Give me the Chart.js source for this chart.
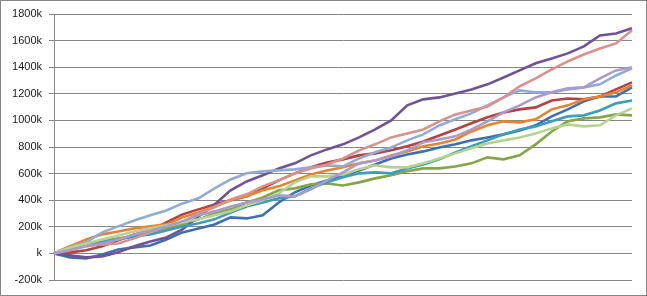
<!DOCTYPE html>
<html>
<head>
<meta charset="utf-8">
<script src="https://cdn.jsdelivr.net/npm/chart.js@4"></script>
<style>
html,body{margin:0;padding:0;background:#fff;}
#wrap{width:647px;height:296px;position:relative;}
</style>
</head>
<body>
<div id="wrap"><canvas id="c" width="647" height="296"></canvas></div>
<script>
// Values in thousands at 37 evenly spaced steps
const steps = Array.from({length: 37}, (_, i) => '');
const yTicks = [-200, 0, 200, 400, 600, 800, 1000, 1200, 1400, 1600, 1800];

const seriesBlue = [0,-30,-38,-8,30,45,60,105,158,188,218,271,263,286,383,459,511,549,587,624,669,714,744,767,797,820,850,872,895,925,963,1030,1083,1143,1180,1180,1248];
const seriesRed = [0,8,23,53,98,143,173,233,293,331,368,399,429,489,549,602,647,684,707,737,752,775,805,842,887,932,978,1023,1060,1083,1098,1150,1165,1158,1180,1233,1286];
const seriesGreen = [0,38,68,90,113,128,165,188,218,256,301,331,383,421,474,489,519,526,511,534,564,587,617,639,639,654,677,722,707,737,820,917,993,1015,1023,1045,1038];
const seriesPurple = [0,-15,-30,-23,8,53,90,120,180,278,368,474,541,587,639,677,737,782,820,872,932,1000,1113,1158,1173,1203,1233,1271,1323,1376,1429,1466,1504,1557,1639,1654,1692];
const seriesTeal = [0,53,75,90,105,128,143,173,203,226,256,308,353,383,414,429,489,534,572,602,609,602,639,669,707,759,805,850,895,932,955,993,1030,1038,1075,1128,1150];
const seriesOrange = [0,53,105,143,165,188,203,218,271,308,353,399,429,474,504,549,594,624,647,677,699,737,767,805,827,857,917,963,993,985,1008,1083,1113,1158,1180,1211,1263];
const seriesLightBlue = [0,45,83,158,203,248,286,323,376,414,489,556,602,617,624,632,647,662,654,714,760,797,850,895,962,1008,1053,1113,1173,1226,1211,1211,1233,1248,1271,1338,1391];
const seriesPink = [0,38,60,68,75,113,158,203,233,301,346,406,444,504,549,602,639,669,714,775,820,872,902,932,993,1045,1075,1105,1173,1256,1316,1384,1444,1496,1541,1579,1677];
const seriesLightGreen = [0,45,75,105,135,165,188,211,233,256,286,316,361,399,451,534,579,579,594,632,662,647,647,677,714,752,790,827,850,872,902,940,970,955,963,1038,1090];
const seriesLightPurple = [0,23,53,75,105,143,173,203,241,286,316,353,383,406,436,429,481,549,609,677,699,729,775,835,857,880,932,993,1060,1113,1173,1211,1241,1248,1316,1376,1399];

const seriesList = [
  {data: seriesBlue, color: '#3F6FB3'},
  {data: seriesRed, color: '#B6423E'},
  {data: seriesGreen, color: '#84A646'},
  {data: seriesPurple, color: '#6E5497'},
  {data: seriesTeal, color: '#3A9EBE'},
  {data: seriesOrange, color: '#E8822E'},
  {data: seriesLightBlue, color: '#90ABD7'},
  {data: seriesPink, color: '#D8918D'},
  {data: seriesLightGreen, color: '#B8D18F'},
  {data: seriesLightPurple, color: '#AB9BC9'}
];

const frame = {
  id: 'frame',
  beforeDraw(chart) {
    const ctx = chart.ctx;
    ctx.save();
    ctx.fillStyle = '#fff';
    ctx.fillRect(0, 0, chart.width, chart.height);
    ctx.restore();
  },
  afterDraw(chart) {
    const ctx = chart.ctx;
    ctx.save();
    ctx.strokeStyle = '#868686';
    ctx.lineWidth = 1;
    ctx.strokeRect(0.5, 0.5, chart.width - 1, chart.height - 1);
    ctx.restore();
  }
};

new Chart(document.getElementById('c'), {
  type: 'line',
  data: {
    labels: steps,
    datasets: seriesList.map((s, i) => ({
      data: s.data.map(v => v * 1000),
      borderColor: s.color,
      backgroundColor: s.color,
      borderWidth: 2.6,
      pointRadius: 0,
      tension: 0,
      fill: false,
      order: -i
    }))
  },
  options: {
    responsive: false,
    animation: false,
    devicePixelRatio: 1,
    layout: {padding: {left: 0, right: 15, top: 14, bottom: 16}},
    plugins: {legend: {display: false}, tooltip: {enabled: false}},
    scales: {
      x: {
        display: false,
        offset: false
      },
      y: {
        min: yTicks[0] * 1000,
        max: yTicks[yTicks.length - 1] * 1000,
        afterBuildTicks(scale) {
          scale.ticks = yTicks.map(v => ({value: v * 1000}));
        },
        afterFit(scale) { scale.width = 54; },
        grid: {
          color: '#868686',
          lineWidth: 1,
          drawTicks: true,
          tickLength: 5,
          tickColor: '#868686'
        },
        border: {display: true, color: '#868686', width: 1},
        ticks: {
          padding: 7,
          color: '#1a1a1a',
          font: {family: 'Liberation Sans, Arial, sans-serif', size: 11},
          callback: (v) => v === 0 ? 'k' : (v / 1000) + 'k'
        }
      }
    }
  },
  plugins: [frame]
});
</script>
</body>
</html>
